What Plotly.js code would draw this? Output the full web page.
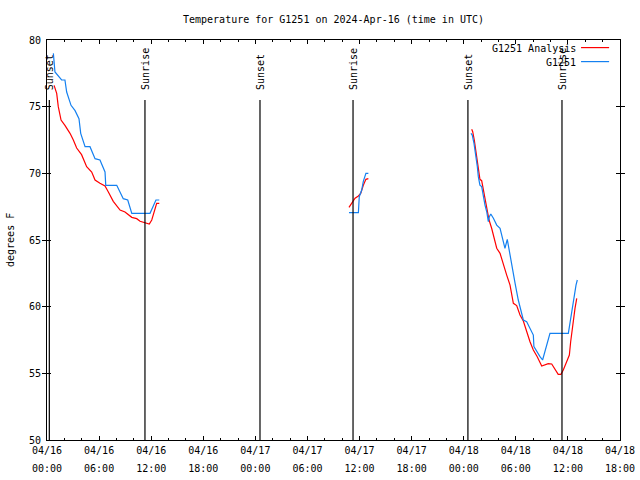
<!DOCTYPE html>
<html>
<head>
<meta charset="utf-8">
<script src="https://cdn.plot.ly/plotly-3.0.1.min.js"></script>
<style>html,body{margin:0;padding:0;background:#fff;}#chart{width:640px;height:480px;}</style>
</head>
<body>
<div id="chart"></div>
<script>
// Observed G1251 temperatures (null = no data)
const obsTimes = [
  "2024-04-16 00:44","2024-04-16 00:55","2024-04-16 01:41","2024-04-16 02:04","2024-04-16 02:16","2024-04-16 02:46",
  "2024-04-16 03:14","2024-04-16 03:41","2024-04-16 03:53","2024-04-16 04:23","2024-04-16 04:57","2024-04-16 05:32",
  "2024-04-16 06:06","2024-04-16 06:41","2024-04-16 06:46","2024-04-16 08:02","2024-04-16 08:47","2024-04-16 09:18",
  "2024-04-16 09:46","2024-04-16 11:52","2024-04-16 12:33","2024-04-16 12:56",
  "2024-04-16 20:00",
  "2024-04-17 10:47","2024-04-17 11:52","2024-04-17 11:58","2024-04-17 12:15","2024-04-17 12:26","2024-04-17 12:38",
  "2024-04-17 12:44","2024-04-17 13:01",
  "2024-04-17 20:00",
  "2024-04-18 00:50","2024-04-18 00:59","2024-04-18 01:11","2024-04-18 01:23","2024-04-18 01:34","2024-04-18 01:41",
  "2024-04-18 01:52","2024-04-18 02:04","2024-04-18 02:15","2024-04-18 02:27","2024-04-18 02:39","2024-04-18 02:50",
  "2024-04-18 02:57","2024-04-18 03:07","2024-04-18 03:25","2024-04-18 03:48","2024-04-18 04:11","2024-04-18 04:34",
  "2024-04-18 04:45","2024-04-18 05:01","2024-04-18 05:15","2024-04-18 05:32","2024-04-18 05:55","2024-04-18 06:17",
  "2024-04-18 06:41","2024-04-18 06:52","2024-04-18 07:15","2024-04-18 07:38","2024-04-18 08:01","2024-04-18 08:05",
  "2024-04-18 08:24","2024-04-18 08:47","2024-04-18 09:05","2024-04-18 09:22","2024-04-18 09:38","2024-04-18 09:56",
  "2024-04-18 12:03","2024-04-18 12:14","2024-04-18 12:26","2024-04-18 12:37","2024-04-18 12:56","2024-04-18 13:05"
];
const obsTemps = [
  79.0,77.6,77.0,77.0,76.1,75.1,
  74.7,74.1,73.0,72.0,72.0,71.1,
  71.0,70.1,69.1,69.1,68.1,68.0,
  67.0,67.0,68.0,68.0,
  null,
  67.05,67.05,68.25,68.75,69.4,69.75,
  70.0,70.0,
  null,
  73.0,72.87,72.25,71.5,70.5,69.75,
  69.12,69.0,68.25,67.62,67.12,66.37,
  66.75,66.95,66.63,66.12,65.88,65.0,
  64.38,65.05,64.12,63.25,61.75,60.5,
  59.5,59.0,58.87,58.37,57.87,57.0,
  56.62,56.25,56.0,56.62,57.37,58.0,
  58.0,58.75,59.75,60.5,61.62,62.0
];

// G1251 Analysis temperatures
const anaTimes = [
  "2024-04-16 00:49","2024-04-16 01:07","2024-04-16 01:18","2024-04-16 01:37","2024-04-16 02:04","2024-04-16 02:39",
  "2024-04-16 03:02","2024-04-16 03:25","2024-04-16 03:59","2024-04-16 04:34","2024-04-16 05:09","2024-04-16 05:32",
  "2024-04-16 06:06","2024-04-16 06:41","2024-04-16 07:04","2024-04-16 07:38","2024-04-16 08:25","2024-04-16 08:59",
  "2024-04-16 09:46","2024-04-16 10:20","2024-04-16 10:43","2024-04-16 11:17","2024-04-16 11:47","2024-04-16 12:04",
  "2024-04-16 12:26","2024-04-16 12:38","2024-04-16 12:56",
  "2024-04-16 20:00",
  "2024-04-17 10:47","2024-04-17 11:06","2024-04-17 11:29","2024-04-17 11:52","2024-04-17 12:08","2024-04-17 12:26",
  "2024-04-17 12:44","2024-04-17 13:01",
  "2024-04-17 20:00",
  "2024-04-18 00:55","2024-04-18 01:02","2024-04-18 01:13","2024-04-18 01:23","2024-04-18 01:34","2024-04-18 01:46",
  "2024-04-18 01:52","2024-04-18 02:04","2024-04-18 02:15","2024-04-18 02:27","2024-04-18 02:39","2024-04-18 02:55",
  "2024-04-18 03:13","2024-04-18 03:31","2024-04-18 03:48","2024-04-18 04:11","2024-04-18 04:34","2024-04-18 04:57",
  "2024-04-18 05:20","2024-04-18 05:43","2024-04-18 06:06","2024-04-18 06:29","2024-04-18 06:52","2024-04-18 07:15",
  "2024-04-18 07:38","2024-04-18 08:01","2024-04-18 08:28","2024-04-18 08:59","2024-04-18 09:22","2024-04-18 09:44",
  "2024-04-18 10:08","2024-04-18 10:31","2024-04-18 10:53","2024-04-18 11:12","2024-04-18 11:28","2024-04-18 11:52",
  "2024-04-18 12:10","2024-04-18 12:19","2024-04-18 12:33","2024-04-18 12:49","2024-04-18 13:01"
];
const anaTemps = [
  76.6,76.0,75.0,74.0,73.6,73.0,
  72.5,71.9,71.4,70.5,70.1,69.5,
  69.25,69.05,68.6,67.9,67.25,67.1,
  66.7,66.6,66.4,66.3,66.2,66.5,
  67.4,67.75,67.75,
  null,
  67.45,67.75,68.13,68.3,68.5,69.1,
  69.55,69.6,
  null,
  73.3,73.12,72.5,71.75,70.87,70.0,
  69.55,69.45,68.75,68.0,67.25,66.5,
  65.88,65.13,64.38,64.0,63.12,62.37,
  61.62,60.25,60.08,59.37,58.92,58.12,
  57.37,56.75,56.25,55.55,55.62,55.73,
  55.7,55.32,54.92,54.92,55.25,55.88,
  56.37,57.37,58.62,59.87,60.62
];

// Sunrise / sunset markers
const sunTimes = ["2024-04-16 00:16","2024-04-16 11:17","2024-04-17 00:32","2024-04-17 11:15","2024-04-18 00:29","2024-04-18 11:19"];
const sunLabels = ["Sunset","Sunrise","Sunset","Sunrise","Sunset","Sunrise"];

const seriesNames = ["G1251 Analysis","G1251"];
const seriesColors = ["#ff0000","#1480f0"];

const titleText = "Temperature for G1251 on 2024-Apr-16 (time in UTC)";
const yTitle = "degrees F";
const xRange = ["2024-04-16 00:00","2024-04-18 18:00"];
const yRange = [50, 80];

const FONT = "DejaVu Sans Mono, Liberation Mono, monospace";
const SIX_H = 6 * 3600000;

const traces = [
  {x: anaTimes, y: anaTemps, type: "scatter", mode: "lines", name: seriesNames[0],
   line: {color: seriesColors[0], width: 1.2}, connectgaps: false, showlegend: false, hoverinfo: "skip"},
  {x: obsTimes, y: obsTemps, type: "scatter", mode: "lines", name: seriesNames[1],
   line: {color: seriesColors[1], width: 1.2}, connectgaps: false, showlegend: false, hoverinfo: "skip"},
  // carrier for the second line of the time-axis labels
  {x: [], y: [], xaxis: "x2", yaxis: "y", type: "scatter", mode: "lines", showlegend: false, hoverinfo: "skip"}
];

const shapes = sunTimes.map(t => ({
  type: "line", xref: "x", yref: "y", x0: t, x1: t, y0: 50, y1: 75.5,
  line: {color: "#000", width: 1.2}
}));

const annotations = sunTimes.map((t, i) => ({
  x: t, y: 76.1, xref: "x", yref: "y", text: sunLabels[i], showarrow: false,
  textangle: -90, xanchor: "center", yanchor: "bottom",
  font: {family: FONT, size: 10, color: "#000"}
}));

// legend drawn gnuplot-style (text right-aligned, sample line on the right)
const legRows = [0.978, 0.943];
seriesNames.forEach((n, i) => {
  annotations.push({x: 0.9267, y: legRows[i], xref: "paper", yref: "paper", text: n, showarrow: false,
    xanchor: "right", yanchor: "middle", font: {family: FONT, size: 10, color: "#000"}});
  shapes.push({type: "line", xref: "paper", yref: "paper", x0: 0.932, x1: 0.981, y0: legRows[i] + 0.003, y1: legRows[i] + 0.003,
    line: {color: seriesColors[i], width: 1.2}});
});

annotations.push({x: -0.0646, y: 0.5, xref: "paper", yref: "paper", text: yTitle, showarrow: false,
  textangle: -90, xanchor: "center", yanchor: "middle", font: {family: FONT, size: 10, color: "#000"}});

const layout = {
  width: 640, height: 480,
  margin: {l: 47, r: 20, t: 40, b: 40, pad: 0},
  paper_bgcolor: "#fff", plot_bgcolor: "#fff",
  font: {family: FONT, size: 10, color: "#000"},
  title: {text: titleText, x: 0.5, xref: "paper", xanchor: "center", y: 0.96, yref: "container", yanchor: "middle",
    font: {family: FONT, size: 10, color: "#000"}},
  showlegend: false,
  xaxis: {
    type: "date", range: xRange, autorange: false,
    tick0: xRange[0], dtick: SIX_H, tickformat: "%m/%d",
    ticks: "inside", ticklen: 4, tickcolor: "#000", tickwidth: 1,
    showline: true, linecolor: "#000", linewidth: 1, mirror: "allticks",
    showgrid: false, zeroline: false, ticklabelstandoff: 1,
    minor: {dtick: 2 * 3600000, ticks: "inside", ticklen: 2, tickcolor: "#000", showgrid: false},
    tickfont: {family: FONT, size: 10, color: "#000"}
  },
  xaxis2: {
    type: "date", range: xRange, autorange: false, overlaying: "x", anchor: "y", side: "bottom",
    tick0: xRange[0], dtick: SIX_H, tickformat: "%H:%M",
    ticks: "outside", ticklen: 19, tickcolor: "rgba(0,0,0,0)", tickwidth: 1,
    showline: false, showgrid: false, zeroline: false,
    tickfont: {family: FONT, size: 10, color: "#000"}
  },
  yaxis: {
    range: yRange, autorange: false, dtick: 5, tick0: 50,
    ticks: "inside", ticklen: 4, tickcolor: "#000", tickwidth: 1,
    showline: true, linecolor: "#000", linewidth: 1, mirror: "allticks",
    showgrid: false, zeroline: false, ticklabelstandoff: 3,
    tickfont: {family: FONT, size: 10, color: "#000"}
  },
  shapes: shapes,
  annotations: annotations
};

Plotly.newPlot("chart", traces, layout, {staticPlot: true, displayModeBar: false});
</script>
</body>
</html>
